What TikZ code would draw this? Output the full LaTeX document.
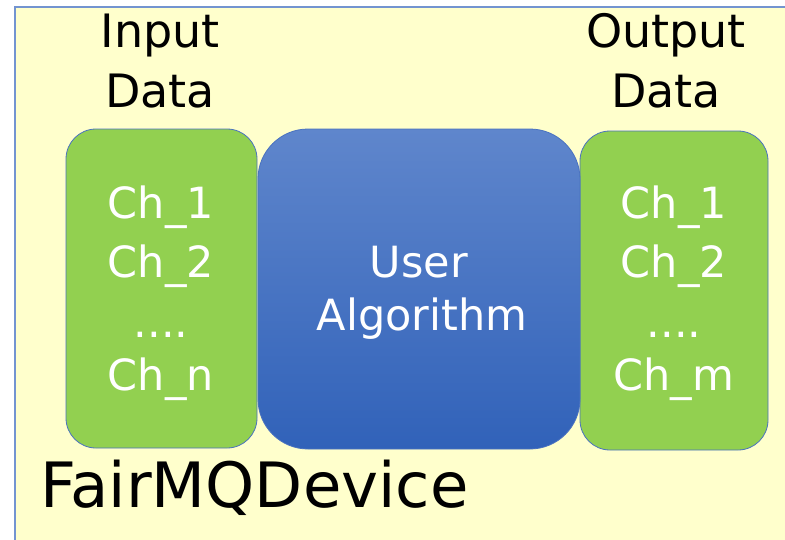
\documentclass[tikz,border=0pt]{standalone}
\usepackage{fontspec}
\setmainfont{DejaVu Sans}
\definecolor{bgyellow}{HTML}{FFFFCC}
\definecolor{bgframe}{HTML}{7394D0}
\definecolor{chgreen}{HTML}{92D050}
\definecolor{boxedge}{HTML}{4A72C0}
\definecolor{bluetop}{HTML}{5F86CC}
\definecolor{bluebot}{HTML}{3162B9}
\tikzset{
  chanbox/.style={draw=boxedge, line width=0.8pt, fill=chgreen, rounded corners=30pt, inner sep=0pt, outer sep=0pt},
  algobox/.style={draw=boxedge, line width=0.8pt, top color=bluetop, bottom color=bluebot, rounded corners=50pt, inner sep=0pt, outer sep=0pt},
  headtxt/.style={anchor=base, inner sep=0pt, font=\fontsize{46}{50}\selectfont, text=black},
  chtxt/.style={anchor=base, inner sep=0pt, font=\fontsize{43}{50}\selectfont, text=white},
  devtxt/.style={anchor=base west, inner sep=0pt, font=\fontsize{62.5}{66}\selectfont, text=black}
}
\begin{document}
\begin{tikzpicture}[x=1pt,y=-1pt]
\useasboundingbox (0,0) rectangle (785,539);
\fill[white] (0,0) rectangle (785,539);
\draw[bgframe, line width=1.2pt, fill=bgyellow] (15,7) rectangle (810,570);
% boxes
\node[chanbox, minimum width=191pt, minimum height=319pt] (inbox) at (161.5,288.5) {};
\node[chanbox, minimum width=188pt, minimum height=319pt] (outbox) at (674,290.5) {};
\node[algobox, minimum width=322pt, minimum height=320pt] (algo) at (419,289) {};
% headings
\node[headtxt] (in1) at (160,47) {Input};
\node[headtxt] (in2) at (160,107) {Data};
\node[headtxt] (out1) at (666,47) {Output};
\node[headtxt] (out2) at (666,107) {Data};
% input channels
\node[chtxt] (ic1) at (161,218) {Ch\_1};
\node[chtxt] (ic2) at (161,277) {Ch\_2};
\node[chtxt] (icd) at (161,337) {....};
\node[chtxt] (icn) at (161,390) {Ch\_n};
% output channels
\node[chtxt] (oc1) at (674,218) {Ch\_1};
\node[chtxt] (oc2) at (674,277) {Ch\_2};
\node[chtxt] (ocd) at (674,337) {....};
\node[chtxt] (ocm) at (674,390) {Ch\_m};
% algorithm
\node[chtxt] (ua1) at (419,277) {User};
\node[chtxt] (ua2) at (422,330) {Algorithm};
% device label
\node[devtxt] (dev) at (40,507) {FairMQDevice};
\end{tikzpicture}
\end{document}
